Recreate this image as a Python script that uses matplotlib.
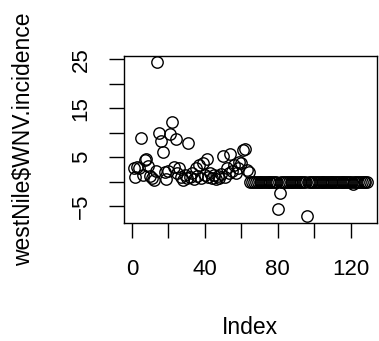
import numpy as np
import matplotlib
matplotlib.use("Agg")
import matplotlib.pyplot as plt

plt.rcParams['font.family'] = ['Liberation Sans', 'DejaVu Sans']

# westNile$WNV.incidence (129 weeks)
early = [2.7, 1.0, 3.0, 2.7, 8.9, 1.3, 4.4, 4.7, 3.2, 1.2,
         0.8, 0.3, 2.2, 24.4, 10.0, 8.3, 6.0, 2.0, 0.6, 2.2,
         9.8, 12.2, 3.0, 8.6, 1.7, 2.7, 1.0, 0.4, 1.4, 0.7,
         7.9, 1.0, 1.7, 0.5, 2.7, 1.2, 3.4, 0.7, 3.7, 1.4,
         4.7, 1.0, 1.7, 0.7, 1.4, 0.6, 1.2, 0.8, 1.6, 5.2,
         1.0, 2.7, 1.7, 5.6, 2.2, 3.4, 1.7, 2.7, 4.0, 3.7,
         6.4, 6.6, 2.4, 2.0]
late = [0.0] * 65
late[80 - 65] = -5.5
late[81 - 65] = -2.4
late[96 - 65] = -7.1
late[121 - 65] = -0.4
incidence = np.array(early + late)
index = np.arange(1, len(incidence) + 1)

xticks = [0, 20, 40, 60, 80, 100, 120]
xlabels = ['0', '', '40', '', '80', '', '120']
yticks = [-5, 0, 5, 10, 15, 20, 25]
ylabels = ['\u22125', '', '5', '', '15', '', '25']

fig = plt.figure(figsize=(3.79, 3.41), dpi=100)
ax = fig.add_axes([124.3 / 379, (341 - 222.5) / 341, (376.5 - 124.3) / 379, (222.5 - 56) / 341])

ax.plot(index, incidence, linestyle='none', marker='o', markersize=8.2,
        markerfacecolor='none', markeredgecolor='black', markeredgewidth=1.0)

# R style 4% padding
def pad(v):
    r = v.max() - v.min()
    return v.min() - 0.04 * r, v.max() + 0.04 * r

ax.set_xlim(pad(index))
ax.set_ylim(pad(incidence))

ax.set_xticks(xticks)
ax.set_xticklabels(xlabels)
ax.set_yticks(yticks)
ax.set_yticklabels(ylabels, rotation=90, va='center')

for s in ax.spines.values():
    s.set_linewidth(1.0)
ax.tick_params(direction='out', length=10.5, width=1.0, labelsize=16)
ax.tick_params(axis='x', pad=15.5)
ax.tick_params(axis='y', pad=13)

ax.set_xlabel('Index', fontsize=16.5, labelpad=26)
ax.set_ylabel('westNile$WNV.incidence', fontsize=16.5, labelpad=26)

fig.savefig('out.png', dpi=100)
